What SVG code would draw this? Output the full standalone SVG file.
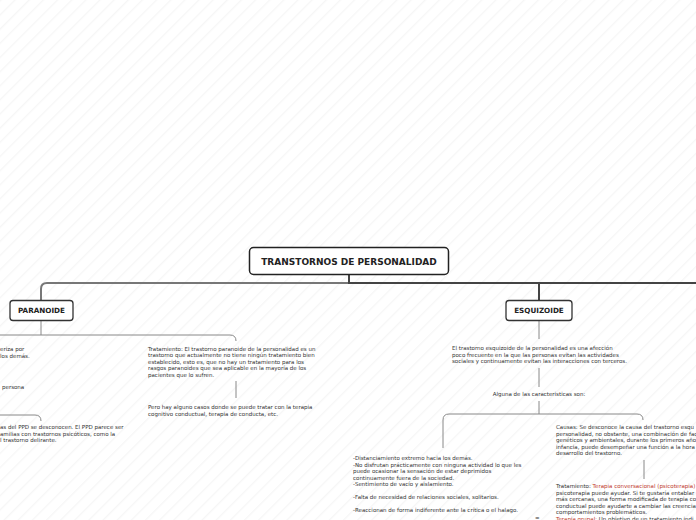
<svg xmlns="http://www.w3.org/2000/svg" width="696" height="520" viewBox="0 0 696 520">
<defs>
<pattern id="stripes" width="10" height="10" patternUnits="userSpaceOnUse" patternTransform="rotate(45)">
<rect width="10" height="10" fill="#ffffff"/>
<line x1="0" y1="0" x2="0" y2="10" stroke="#f6f6f6" stroke-width="2.5"/>
</pattern>
</defs>
<style>
.box{fill:#fff;stroke:#333;stroke-width:1.3}
.root{fill:#fff;stroke:#222;stroke-width:1.5}
.title{font-family:"DejaVu Sans",Verdana,sans-serif;font-weight:bold;fill:#222}
.t{font-family:"DejaVu Sans",Verdana,sans-serif;font-size:5.5px;fill:#333}
.red{fill:#c0392b}
.main{fill:none;stroke-width:2}
.sub{fill:none;stroke:#888;stroke-width:1}
</style>
<rect width="696" height="520" fill="url(#stripes)"/>
<g id="connectors">
<path class="main" stroke="#777" d="M349,283 H47 Q41,283 41,289 V300"/>
<path class="main" stroke="#444" d="M349,274 V283 H696"/>
<path class="main" stroke="#444" d="M539,283 V300"/>
<path class="sub" d="M41,320 V335"/>
<path class="sub" d="M0,335 H230 Q236,335 236,341"/>
<path class="sub" d="M236,381 V398"/>
<path class="sub" d="M0,415 H35 Q41,415 41,421"/>
<path class="sub" d="M539,320 V339"/>
<path class="sub" d="M539,368 V387"/>
<path class="sub" d="M539,401 V414"/>
<path class="sub" d="M443,420 Q443,414 449,414 H637 Q643,414 643,420"/>
<path class="sub" d="M443,420 V448"/>
<path class="sub" d="M644,460 V479"/>
</g>
<g id="root">
<rect class="root" x="249.5" y="247.5" width="199" height="27" rx="4"/>
<text class="title" x="349" y="264.5" font-size="9" text-anchor="middle">TRANSTORNOS DE PERSONALIDAD</text>
</g>
<g id="paranoide">
<rect class="box" x="10" y="300.5" width="63" height="20" rx="3"/>
<text class="title" x="41.5" y="313" font-size="7.2" text-anchor="middle">PARANOIDE</text>
</g>
<g id="paranoide-desc">
<text class="t" x="0" y="351">eriza por</text>
<text class="t" x="0" y="357.5">los demás.</text>
</g>
<g id="paranoide-persona">
<text class="t" x="2" y="389">persona</text>
</g>
<g id="paranoide-causas">
<text class="t" x="0" y="429">as del PPD se desconocen. El PPD parece ser</text>
<text class="t" x="0" y="435.5">amilias con trastornos psicóticos, como la</text>
<text class="t" x="0" y="442">l trastorno delirante.</text>
</g>
<g id="paranoide-tratamiento">
<text class="t" x="148" y="350.5">Tratamiento: El trastorno paranoide de la personalidad es un</text>
<text class="t" x="148" y="357">trastorno que actualmente no tiene ningún tratamiento bien</text>
<text class="t" x="148" y="363.5">establecido, esto es, que no hay un tratamiento para los</text>
<text class="t" x="148" y="370">rasgos paranoides que sea aplicable en la mayoría de los</text>
<text class="t" x="148" y="376.5">pacientes que lo sufren.</text>
</g>
<g id="paranoide-terapia">
<text class="t" x="148" y="409">Pero hay alguno casos donde se puede tratar con  la terapia</text>
<text class="t" x="148" y="415.5">cognitivo conductual, terapia de conducta, etc.</text>
</g>
<g id="esquizoide">
<rect class="box" x="506" y="300.5" width="66" height="20" rx="3"/>
<text class="title" x="539" y="313" font-size="7.2" text-anchor="middle">ESQUIZOIDE</text>
</g>
<g id="esquizoide-desc">
<text class="t" x="452" y="350">El trastorno esquizoide de la personalidad es una afección</text>
<text class="t" x="452" y="356.5">poco frecuente en la que las personas evitan las actividades</text>
<text class="t" x="452" y="363">sociales y continuamente evitan las interacciones con terceros.</text>
</g>
<g id="esquizoide-caracteristicas">
<text class="t" x="539" y="396" text-anchor="middle">Alguna de las caracteristicas son:</text>
</g>
<g id="esquizoide-lista">
<text class="t" x="353" y="460">-Distanciamiento extremo hacia los demás.</text>
<text class="t" x="353" y="466.5">-No disfrutan prácticamente con ninguna actividad lo que les</text>
<text class="t" x="353" y="473">puede ocasionar la sensación de estar deprimidos</text>
<text class="t" x="353" y="479.5">continuamente fuera de la sociedad.</text>
<text class="t" x="353" y="486">-Sentimiento de vacío y aislamiento.</text>
<text class="t" x="353" y="499">-Falta de necesidad de relaciones sociales, solitarios.</text>
<text class="t" x="353" y="512">-Reaccionan de forma indiferente ante la crítica o el halago.</text>
<text class="t" x="535" y="520" fill="#555" font-size="7">=</text>
</g>
<g id="esquizoide-causas">
<text class="t" x="556" y="429">Causas:  Se desconoce la causa del trastorno esqu</text>
<text class="t" x="556" y="435.5">personalidad, no obstante, una combinación de fac</text>
<text class="t" x="556" y="442">genéticos y ambientales, durante los primeros año</text>
<text class="t" x="556" y="448.5">infancia, puede desempeñar una función a la hora</text>
<text class="t" x="556" y="455">desarrollo del trastorno.</text>
</g>
<g id="esquizoide-tratamiento">
<text class="t" x="556" y="488">Tratamiento: <tspan class="red">Terapia conversacional (psicoterapia)</tspan></text>
<text class="t" x="556" y="494.5">psicoterapia puede ayudar. Si te gustaría entablar</text>
<text class="t" x="556" y="501">más cercanas, una forma modificada de terapia co</text>
<text class="t" x="556" y="507.5">conductual puede ayudarte a cambiar las creencia</text>
<text class="t" x="556" y="514">comportamientos problemáticos.</text>
<text class="t" x="556" y="520.5"><tspan class="red">Terapia grupal:</tspan> Un objetivo de un tratamiento indi</text>
</g>
</svg>
